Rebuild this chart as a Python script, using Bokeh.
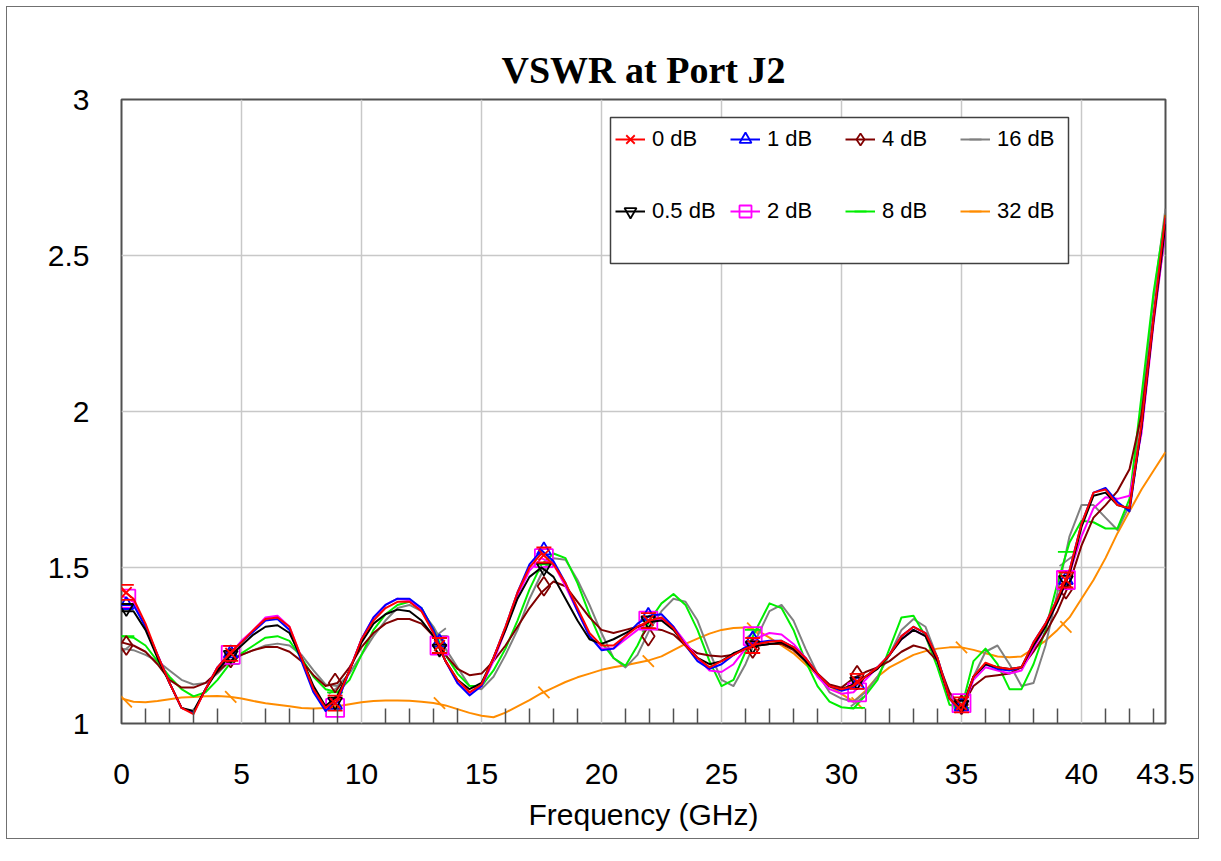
import numpy as np
from bokeh.plotting import figure
from bokeh.models import (Range1d, FixedTicker, Legend, LegendItem, BoxAnnotation)
from bokeh.embed import file_html
from bokeh.resources import INLINE

# ---------------- data ----------------
freq = np.arange(0.0, 43.51, 0.5)  # GHz, sampling grid

vswr_0dB = [1.43, 1.40, 1.32, 1.22, 1.13, 1.05, 1.03, 1.11, 1.18, 1.225,
            1.26, 1.30, 1.335, 1.34, 1.31, 1.21, 1.11, 1.05, 1.08, 1.17,
            1.27, 1.33, 1.37, 1.39, 1.39, 1.36, 1.29, 1.20, 1.14, 1.10,
            1.125, 1.21, 1.31, 1.42, 1.50, 1.545, 1.51, 1.45, 1.37, 1.29,
            1.25, 1.25, 1.28, 1.31, 1.33, 1.34, 1.305, 1.25, 1.21, 1.18,
            1.20, 1.22, 1.24, 1.255, 1.262, 1.265, 1.245, 1.21, 1.16, 1.12,
            1.11, 1.12, 1.15, 1.18, 1.22, 1.28, 1.31, 1.29, 1.21, 1.08,
            1.04, 1.15, 1.195, 1.18, 1.175, 1.18, 1.26, 1.32, 1.40, 1.49,
            1.64, 1.74, 1.75, 1.70, 1.69, 1.96, 2.30, 2.63]
vswr_05dB = [1.36, 1.36, 1.30, 1.21, 1.13, 1.05, 1.04, 1.11, 1.17, 1.215,
             1.25, 1.285, 1.31, 1.315, 1.29, 1.21, 1.12, 1.055, 1.09, 1.17,
             1.26, 1.32, 1.35, 1.365, 1.36, 1.33, 1.28, 1.20, 1.14, 1.11,
             1.13, 1.21, 1.30, 1.40, 1.47, 1.50, 1.47, 1.40, 1.33, 1.27,
             1.255, 1.27, 1.29, 1.31, 1.325, 1.33, 1.30, 1.25, 1.21, 1.19,
             1.20, 1.225, 1.24, 1.25, 1.255, 1.26, 1.24, 1.20, 1.16, 1.12,
             1.11, 1.125, 1.15, 1.175, 1.22, 1.27, 1.30, 1.28, 1.20, 1.08,
             1.045, 1.15, 1.19, 1.18, 1.175, 1.18, 1.25, 1.31, 1.39, 1.48,
             1.63, 1.73, 1.74, 1.70, 1.69, 1.95, 2.29, 2.60]
vswr_1dB = [1.38, 1.38, 1.31, 1.22, 1.13, 1.05, 1.035, 1.11, 1.18, 1.225,
            1.26, 1.295, 1.33, 1.335, 1.30, 1.20, 1.10, 1.04, 1.07, 1.17,
            1.27, 1.34, 1.38, 1.40, 1.40, 1.37, 1.30, 1.20, 1.13, 1.09,
            1.12, 1.21, 1.31, 1.42, 1.51, 1.555, 1.52, 1.45, 1.36, 1.28,
            1.235, 1.24, 1.28, 1.32, 1.345, 1.35, 1.31, 1.25, 1.20, 1.175,
            1.19, 1.22, 1.245, 1.26, 1.265, 1.265, 1.245, 1.21, 1.16, 1.12,
            1.105, 1.115, 1.15, 1.18, 1.22, 1.28, 1.31, 1.29, 1.21, 1.08,
            1.035, 1.15, 1.19, 1.175, 1.17, 1.18, 1.26, 1.32, 1.40, 1.49,
            1.64, 1.74, 1.755, 1.71, 1.68, 1.95, 2.30, 2.62]
vswr_2dB = [1.41, 1.39, 1.31, 1.22, 1.13, 1.05, 1.035, 1.11, 1.18, 1.22,
            1.265, 1.30, 1.34, 1.345, 1.31, 1.21, 1.11, 1.045, 1.07, 1.17,
            1.27, 1.34, 1.38, 1.40, 1.395, 1.365, 1.29, 1.20, 1.13, 1.095,
            1.12, 1.20, 1.30, 1.41, 1.49, 1.53, 1.51, 1.44, 1.36, 1.28,
            1.24, 1.24, 1.27, 1.30, 1.33, 1.335, 1.31, 1.26, 1.21, 1.17,
            1.165, 1.19, 1.24, 1.275, 1.29, 1.285, 1.255, 1.21, 1.15, 1.11,
            1.095, 1.10, 1.14, 1.18, 1.22, 1.27, 1.30, 1.28, 1.20, 1.08,
            1.04, 1.14, 1.18, 1.17, 1.16, 1.17, 1.24, 1.31, 1.39, 1.48,
            1.60, 1.69, 1.725, 1.72, 1.73, 1.93, 2.28, 2.58]
vswr_4dB = [1.26, 1.25, 1.23, 1.19, 1.14, 1.115, 1.115, 1.13, 1.165, 1.20,
            1.22, 1.235, 1.245, 1.245, 1.23, 1.20, 1.155, 1.12, 1.13, 1.18,
            1.245, 1.29, 1.32, 1.335, 1.335, 1.32, 1.28, 1.22, 1.175, 1.155,
            1.16, 1.20, 1.25, 1.31, 1.37, 1.42, 1.455, 1.44, 1.39, 1.34,
            1.30, 1.29, 1.30, 1.31, 1.305, 1.30, 1.285, 1.25, 1.225, 1.218,
            1.215, 1.22, 1.24, 1.25, 1.255, 1.255, 1.235, 1.20, 1.16, 1.125,
            1.115, 1.145, 1.165, 1.18, 1.20, 1.23, 1.25, 1.24, 1.20, 1.10,
            1.05, 1.12, 1.15, 1.155, 1.16, 1.18, 1.23, 1.29, 1.36, 1.45,
            1.57, 1.66, 1.70, 1.745, 1.815, 1.99, 2.30, 2.58]
vswr_8dB = [1.28, 1.275, 1.25, 1.20, 1.15, 1.11, 1.087, 1.10, 1.14, 1.19,
            1.225, 1.25, 1.275, 1.28, 1.265, 1.21, 1.15, 1.11, 1.10, 1.14,
            1.22, 1.30, 1.35, 1.38, 1.39, 1.37, 1.30, 1.22, 1.16, 1.12,
            1.12, 1.17, 1.24, 1.33, 1.43, 1.51, 1.545, 1.53, 1.45, 1.35,
            1.26, 1.21, 1.185, 1.25, 1.33, 1.385, 1.415, 1.38, 1.30, 1.20,
            1.12, 1.14, 1.23, 1.31, 1.385, 1.37, 1.30, 1.20, 1.12, 1.07,
            1.052, 1.048, 1.09, 1.14, 1.24, 1.34, 1.345, 1.28, 1.18, 1.06,
            1.05, 1.20, 1.24, 1.19, 1.11, 1.11, 1.19, 1.30, 1.45, 1.58,
            1.65, 1.645, 1.625, 1.625, 1.72, 2.05, 2.38, 2.63]
vswr_16dB = [1.24, 1.235, 1.22, 1.20, 1.17, 1.14, 1.125, 1.13, 1.16, 1.20,
             1.22, 1.235, 1.25, 1.256, 1.25, 1.22, 1.17, 1.125, 1.12, 1.16,
             1.22, 1.28, 1.33, 1.37, 1.38, 1.36, 1.31, 1.24, 1.18, 1.12,
             1.11, 1.15, 1.22, 1.30, 1.40, 1.48, 1.53, 1.525, 1.46, 1.38,
             1.29, 1.21, 1.18, 1.22, 1.30, 1.36, 1.40, 1.39, 1.33, 1.23,
             1.14, 1.12, 1.19, 1.28, 1.36, 1.38, 1.33, 1.24, 1.16, 1.10,
             1.08, 1.07, 1.10, 1.15, 1.22, 1.30, 1.335, 1.31, 1.21, 1.09,
             1.05, 1.15, 1.23, 1.25, 1.19, 1.12, 1.13, 1.25, 1.42, 1.60,
             1.70, 1.70, 1.66, 1.62, 1.70, 2.02, 2.36, 2.65]
vswr_32dB = [1.08, 1.07, 1.068, 1.072, 1.078, 1.083, 1.085, 1.087, 1.088, 1.086,
             1.08, 1.072, 1.065, 1.06, 1.055, 1.05, 1.048, 1.05, 1.055, 1.062,
             1.068, 1.072, 1.074, 1.074, 1.073, 1.07, 1.066, 1.058, 1.046, 1.034,
             1.025, 1.02, 1.035, 1.055, 1.075, 1.097, 1.115, 1.133, 1.148, 1.16,
             1.172, 1.18, 1.187, 1.195, 1.203, 1.215, 1.235, 1.255, 1.272, 1.288,
             1.30, 1.306, 1.308, 1.298, 1.275, 1.25, 1.225, 1.19, 1.155, 1.12,
             1.095, 1.07, 1.105, 1.15, 1.18, 1.20, 1.22, 1.232, 1.24, 1.244,
             1.244, 1.236, 1.225, 1.215, 1.212, 1.215, 1.24, 1.265, 1.30, 1.34,
             1.40, 1.46, 1.53, 1.61, 1.68, 1.75, 1.81, 1.87]

# marker positions (GHz) and marker values read for each trace
marker_freq = [0.2, 4.55, 8.9, 13.25, 17.6, 21.95, 26.3, 30.65, 35.0, 39.35]
mk_0dB = [1.42, 1.225, 1.065, 1.25, 1.54, 1.33, 1.25, 1.135, 1.06, 1.46]
mk_05dB = [1.37, 1.22, 1.07, 1.24, 1.50, 1.33, 1.25, 1.135, 1.06, 1.46]
mk_1dB = [1.38, 1.225, 1.06, 1.26, 1.555, 1.345, 1.27, 1.125, 1.055, 1.46]
mk_2dB = [1.40, 1.22, 1.05, 1.25, 1.53, 1.33, 1.28, 1.10, 1.065, 1.46]
mk_4dB = [1.25, 1.21, 1.13, 1.25, 1.44, 1.28, 1.24, 1.155, 1.06, 1.43]
mk_8dB = [1.28, 1.19, 1.10, 1.28, 1.51, 1.33, 1.30, 1.05, 1.05, 1.55]
mk_16dB = [1.24, 1.20, 1.11, 1.29, 1.50, 1.31, 1.29, 1.07, 1.05, 1.52]
mk_32dB = [1.07, 1.085, 1.06, 1.065, 1.10, 1.20, 1.305, 1.065, 1.244, 1.31]

series_labels = ["0 dB", "0.5 dB", "1 dB", "2 dB", "4 dB", "8 dB", "16 dB", "32 dB"]

x_tick_values = [0, 5, 10, 15, 20, 25, 30, 35, 40, 43.5]
x_tick_labels = ["0", "5", "10", "15", "20", "25", "30", "35", "40", "43.5"]
x_minor_ticks = [1, 2, 3, 4, 6, 7, 8, 9, 11, 12, 13, 14, 16, 17, 18, 19, 21, 22, 23, 24,
                 26, 27, 28, 29, 31, 32, 33, 34, 36, 37, 38, 39, 41, 42, 43]
y_tick_values = [1, 1.5, 2, 2.5, 3]
y_tick_labels = ["1", "1.5", "2", "2.5", "3"]

# ---------------- figure ----------------
FW, FH = 1044, 624
p = figure(frame_width=FW, frame_height=FH,
           x_range=Range1d(0, 43.5), y_range=Range1d(1, 3),
           output_backend="svg", toolbar_location=None,
           min_border_left=121, min_border_right=40,
           min_border_top=99, min_border_bottom=122,
           background_fill_color="white", border_fill_color="white",
           border_fill_alpha=0.0)
p.styles = {"outline": "1.5px solid #707070", "outline-offset": "-7px",
            "background-color": "white"}

px_per_unit = FH / 2.0
d = 7.5 / px_per_unit
p.extra_y_ranges = {"up": Range1d(1 - d, 3 - d), "dn": Range1d(1 + d, 3 + d)}

p.title.text = "VSWR at Port J2"
p.title.align = "center"
p.title.text_font = "Liberation Serif"
p.title.text_font_style = "bold"
p.title.text_font_size = "38px"
p.title.text_color = "black"
p.title.standoff = 18

p.outline_line_color = "#505050"
p.outline_line_width = 2

xa = p.xaxis[0]
xa.ticker = FixedTicker(ticks=x_tick_values, minor_ticks=x_minor_ticks)
xa.major_label_overrides = dict(zip(x_tick_values, x_tick_labels))
xa.axis_label = "Frequency (GHz)"
xa.axis_label_text_font = "Liberation Sans"
xa.axis_label_text_font_style = "normal"
xa.axis_label_text_font_size = "30px"
xa.axis_label_text_color = "black"
xa.axis_label_standoff = 11
xa.major_label_text_font = "Liberation Sans"
xa.major_label_text_font_size = "30px"
xa.major_label_text_color = "black"
xa.major_label_standoff = 34
xa.axis_line_color = None
xa.major_tick_line_color = None
xa.minor_tick_in = 15
xa.minor_tick_out = 0
xa.minor_tick_line_color = "#505050"
xa.minor_tick_line_width = 1.5

ya = p.yaxis[0]
ya.ticker = FixedTicker(ticks=y_tick_values, minor_ticks=[])
ya.major_label_overrides = dict(zip(y_tick_values, y_tick_labels))
ya.major_label_text_font = "Liberation Sans"
ya.major_label_text_font_size = "30px"
ya.major_label_text_color = "black"
ya.major_label_standoff = 26
ya.axis_line_color = None
ya.major_tick_line_color = None
ya.minor_tick_line_color = None

p.xgrid.grid_line_color = "#c8c8c8"
p.xgrid.grid_line_width = 1.5
p.ygrid.grid_line_color = "#c8c8c8"
p.ygrid.grid_line_width = 1.5

# ---------------- traces ----------------
colors = {"0 dB": "#ff0000", "0.5 dB": "#000000", "1 dB": "#0000ff", "2 dB": "#ff00ff",
          "4 dB": "#800000", "8 dB": "#00ee00", "16 dB": "#808080", "32 dB": "#ff8c00"}
values = {"0 dB": vswr_0dB, "0.5 dB": vswr_05dB, "1 dB": vswr_1dB, "2 dB": vswr_2dB,
          "4 dB": vswr_4dB, "8 dB": vswr_8dB, "16 dB": vswr_16dB, "32 dB": vswr_32dB}
marks = {"0 dB": mk_0dB, "0.5 dB": mk_05dB, "1 dB": mk_1dB, "2 dB": mk_2dB,
         "4 dB": mk_4dB, "8 dB": mk_8dB, "16 dB": mk_16dB, "32 dB": mk_32dB}
marker_style = {
    "0 dB": dict(marker="x", size=15, angle=0.0),
    "0.5 dB": dict(marker="inverted_triangle", size=14, angle=0.0),
    "1 dB": dict(marker="triangle", size=14, angle=0.0),
    "2 dB": dict(marker="square", size=18, angle=0.0),
    "4 dB": dict(marker="diamond", size=19, angle=0.0),
    "8 dB": dict(marker="dash", size=16, angle=0.0),
    "16 dB": dict(marker="dash", size=16, angle=0.65),
    "32 dB": dict(marker="dash", size=16, angle=-0.8),
}

renderers = {}
for lab in reversed(series_labels):
    c = colors[lab]
    rl = p.line(freq, values[lab], line_color=c, line_width=2, line_join="round")
    ms = marker_style[lab]
    rm = p.scatter(marker_freq, marks[lab], marker=ms["marker"], size=ms["size"],
                   angle=ms["angle"], line_color=c, fill_color=None, line_width=1.8)
    rr = [rl, rm]
    if lab == "0 dB":
        for rn in ("up", "dn"):
            p.scatter(marker_freq, marks[lab], marker="dash", size=15, y_range_name=rn,
                      line_color=c, line_width=1.8)
    renderers[lab] = rr

# ---------------- legend ----------------
box = BoxAnnotation(left=489, right=947, bottom=460, top=606,
                    left_units="screen", right_units="screen",
                    bottom_units="screen", top_units="screen",
                    fill_color="white", fill_alpha=1.0,
                    line_color="#404040", line_width=1.5, line_alpha=1.0)
p.add_layout(box)

col_x = [494, 609, 724, 839]
for ci in range(4):
    labs = series_labels[2 * ci: 2 * ci + 2]
    items = [LegendItem(label=l, renderers=renderers[l]) for l in labs]
    lg = Legend(items=items, location=(col_x[ci], 490), orientation="vertical",
                glyph_width=30, glyph_height=44, label_height=44, label_width=40,
                label_standoff=7, spacing=28, padding=0, margin=0,
                border_line_color=None, background_fill_alpha=0.0,
                label_text_font="Liberation Sans", label_text_font_size="22px",
                label_text_color="black")
    p.add_layout(lg)

open("out.html", "w").write(file_html(p, INLINE))
